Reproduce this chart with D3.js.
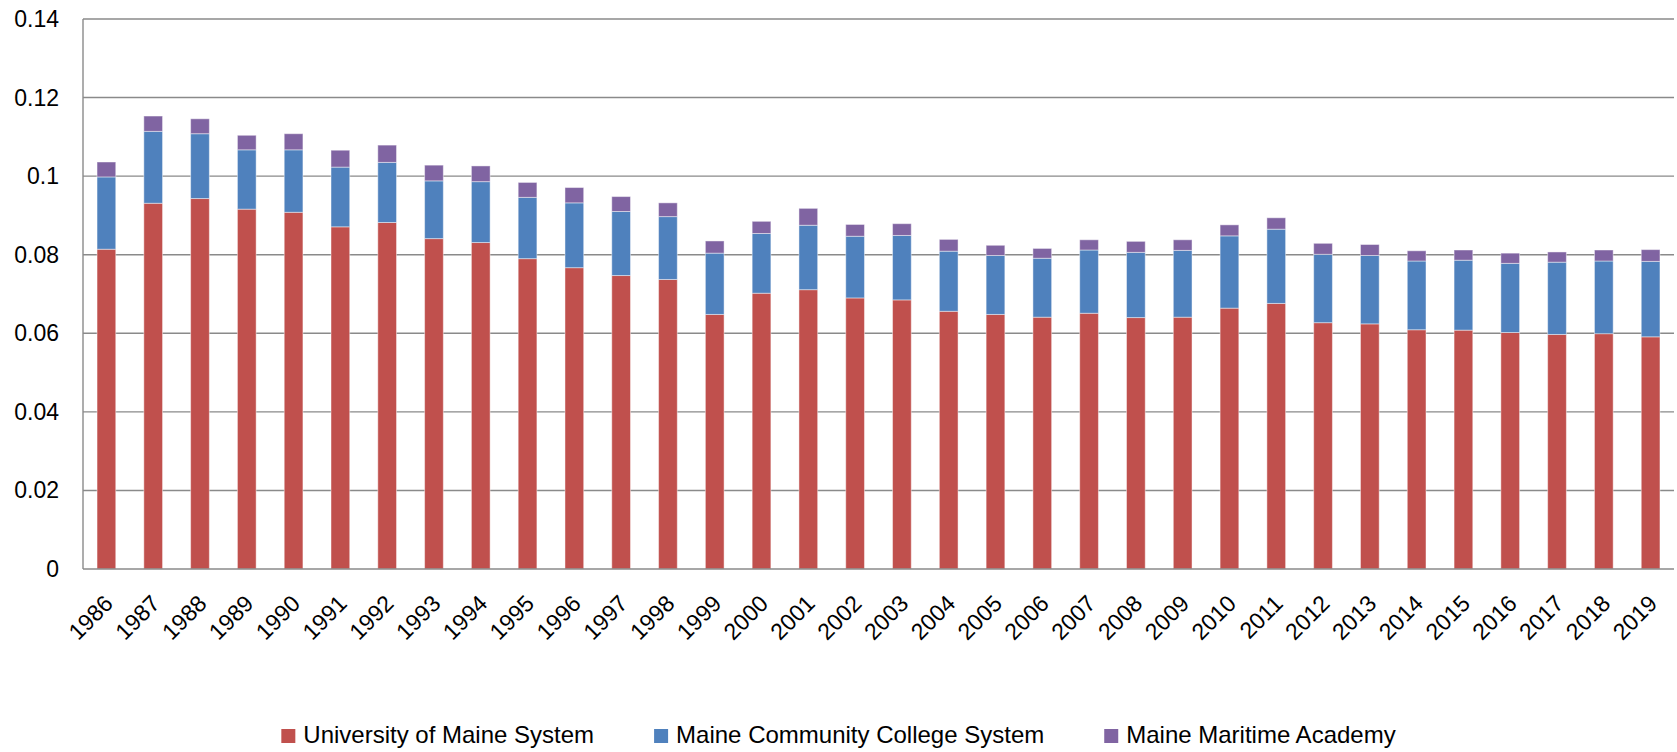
<!DOCTYPE html>
<html>
<head>
<meta charset="utf-8" />
<title>Maine public higher education share</title>
<script src="https://d3js.org/d3.v7.min.js"></script>
<style>
  body { margin: 0; background: #fff; }
  text { font-family: "Liberation Sans", Arial, sans-serif; fill: #000; }
</style>
</head>
<body>
<svg id="chart" width="1677" height="752"></svg>
<script>

// years on the x axis
var years = ["1986","1987","1988","1989","1990","1991","1992","1993","1994","1995",
  "1996","1997","1998","1999","2000","2001","2002","2003","2004","2005","2006","2007",
  "2008","2009","2010","2011","2012","2013","2014","2015","2016","2017","2018","2019"];

// series values (each segment, not cumulative)
var univMaine = [0.0814,0.0931,0.0943,0.0916,0.0908,0.0871,0.0882,0.0841,0.0831,0.0790,
  0.0767,0.0747,0.0737,0.0648,0.0702,0.0711,0.0690,0.0685,0.0656,0.0648,0.0641,0.0651,
  0.0640,0.0641,0.0664,0.0676,0.0627,0.0624,0.0609,0.0608,0.0602,0.0597,0.0599,0.0591];
var communityCollege = [0.0184,0.0183,0.0165,0.0151,0.0159,0.0152,0.0153,0.0147,0.0155,0.0156,
  0.0165,0.0163,0.0160,0.0156,0.0152,0.0164,0.0157,0.0164,0.0153,0.0150,0.0150,0.0161,
  0.0166,0.0170,0.0184,0.0189,0.0174,0.0174,0.0175,0.0178,0.0176,0.0184,0.0185,0.0192];
var maritime = [0.0038,0.0039,0.0038,0.0037,0.0041,0.0043,0.0044,0.0040,0.0040,0.0038,
  0.0039,0.0038,0.0035,0.0031,0.0031,0.0043,0.0030,0.0030,0.0030,0.0026,0.0025,0.0026,
  0.0028,0.0027,0.0028,0.0029,0.0028,0.0028,0.0026,0.0026,0.0026,0.0026,0.0028,0.0030];

var seriesNames = ["University of Maine System", "Maine Community College System", "Maine Maritime Academy"];
var seriesColors = ["#C0504D", "#4F81BD", "#8064A2"];
var yTicks = [0, 0.02, 0.04, 0.06, 0.08, 0.1, 0.12, 0.14];

// The svg
var svg = d3.select("#chart"),
  width = +svg.attr("width"),
  height = +svg.attr("height");

var margin = {top: 19, right: 3, bottom: 183, left: 83};
var plotRight = width - margin.right,
  plotBottom = height - margin.bottom;

// build the table d3.stack wants
var keys = ["u", "c", "m"];
var table = years.map(function(y, i) {
  return {year: y, u: univMaine[i], c: communityCollege[i], m: maritime[i]};
});
var stacked = d3.stack().keys(keys)(table);

// scales
var x = d3.scaleBand()
  .domain(years)
  .range([margin.left, plotRight])
  .paddingInner(0.6)
  .paddingOuter(0.3);

var y = d3.scaleLinear()
  .domain([0, 0.14])
  .range([plotBottom, margin.top]);

// gridlines
svg.append("g")
  .selectAll("line")
  .data(yTicks.slice(1))
  .enter()
  .append("line")
  .attr("x1", margin.left)
  .attr("x2", plotRight)
  .attr("y1", function(d) { return y(d); })
  .attr("y2", function(d) { return y(d); })
  .style("stroke", "#8a8a8a")
  .style("stroke-width", 1.4);

// y axis labels
svg.append("g")
  .selectAll("text")
  .data(yTicks)
  .enter()
  .append("text")
  .attr("x", 59)
  .attr("y", function(d) { return y(d); })
  .attr("dy", "0.35em")
  .attr("text-anchor", "end")
  .style("font-size", "23px")
  .text(function(d) { return d; });

// bars
svg.append("g")
  .selectAll("g")
  .data(stacked)
  .enter()
  .append("g")
  .attr("fill", function(d, i) { return seriesColors[i]; })
  .selectAll("rect")
  .data(function(d) { return d; })
  .enter()
  .append("rect")
  .attr("x", function(d) { return x(d.data.year); })
  .attr("y", function(d) { return y(d[1]); })
  .attr("width", x.bandwidth())
  .attr("height", function(d) { return y(d[0]) - y(d[1]); })
  .style("stroke", "rgba(255,255,255,0.45)")
  .style("stroke-width", 1);

// axis lines
svg.append("line")
  .attr("x1", margin.left).attr("x2", margin.left)
  .attr("y1", margin.top).attr("y2", plotBottom)
  .style("stroke", "#8a8a8a").style("stroke-width", 1.4);
svg.append("line")
  .attr("x1", margin.left).attr("x2", plotRight)
  .attr("y1", plotBottom).attr("y2", plotBottom)
  .style("stroke", "#8a8a8a").style("stroke-width", 1.4);

// x axis labels, rotated
svg.append("g")
  .selectAll("text")
  .data(years)
  .enter()
  .append("text")
  .attr("text-anchor", "end")
  .attr("transform", function(d) {
    return "translate(" + (x(d) + x.bandwidth() / 2 + 8) + "," + (plotBottom + 36) + ") rotate(-45)";
  })
  .style("font-size", "23px")
  .text(function(d) { return d; });

// legend, centred under the chart
var legend = svg.append("g");
var items = legend.selectAll("g")
  .data(seriesNames)
  .enter()
  .append("g");
items.append("rect")
  .attr("y", 729)
  .attr("width", 14)
  .attr("height", 14)
  .attr("fill", function(d, i) { return seriesColors[i]; });
items.append("text")
  .attr("x", 22)
  .attr("y", 743)
  .style("font-size", "24px")
  .text(function(d) { return d; });

var pos = 0, offsets = [];
items.each(function() {
  offsets.push(pos);
  pos += 22 + d3.select(this).select("text").node().getComputedTextLength() + 60;
});
var total = pos - 60;
var start = width / 2 - total / 2;
items.attr("transform", function(d, i) { return "translate(" + (start + offsets[i]) + ",0)"; });

</script>
</body>
</html>
